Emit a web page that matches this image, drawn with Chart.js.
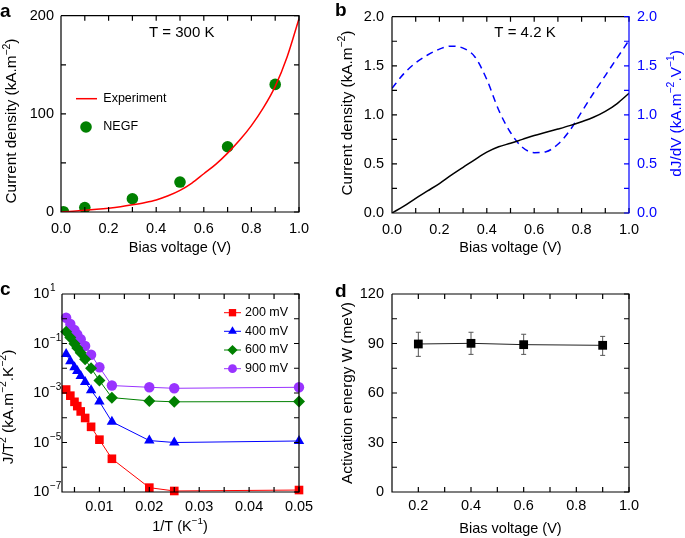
<!DOCTYPE html>
<html><head><meta charset="utf-8">
<script src="https://cdn.jsdelivr.net/npm/chart.js@4.4.1/dist/chart.umd.min.js"></script>
<style>
html,body{margin:0;padding:0;background:#fff;}
#wrap{position:relative;width:685px;height:538px;overflow:hidden;background:#fff;}
#wrap canvas{position:absolute;}
</style></head><body>
<div id="wrap">
<canvas id="ca" width="330" height="270" style="left:0px;top:0px;width:330px;height:270px"></canvas>
<canvas id="cb" width="355" height="270" style="left:330px;top:0px;width:355px;height:270px"></canvas>
<canvas id="cc" width="330" height="268" style="left:0px;top:270px;width:330px;height:268px"></canvas>
<canvas id="cd" width="355" height="268" style="left:330px;top:270px;width:355px;height:268px"></canvas>
</div>
<script>
// ---------- DATA ----------
// Panel a (T = 300 K)
const aBias = [0,0.05,0.1,0.15,0.2,0.25,0.3,0.35,0.4,0.45,0.5,0.55,0.6,0.65,0.7,0.75,0.8,0.85,0.9,0.95,1.0];
const aExperiment = [0,0.8,1.7,2.7,3.9,5.4,7.3,9.5,12.3,16.5,22,29.5,39,48.5,60,73,88,106,128,158,197];
const aNegfBias = [0.01,0.1,0.3,0.5,0.7,0.9];
const aNegf = [0.3,4.5,13.5,30.5,66.5,130];

// Panel b (T = 4.2 K)
const bBias = [0,0.05,0.1,0.15,0.2,0.25,0.3,0.35,0.4,0.45,0.5,0.55,0.6,0.65,0.7,0.75,0.8,0.85,0.9,0.95,1.0];
const bCurrent = [0,0.07,0.15,0.225,0.30,0.385,0.465,0.545,0.62,0.675,0.71,0.75,0.79,0.822,0.855,0.89,0.93,0.975,1.035,1.115,1.22];
const bDjdv = [1.27,1.42,1.53,1.61,1.67,1.70,1.68,1.59,1.36,1.05,0.82,0.67,0.615,0.625,0.70,0.84,1.03,1.22,1.40,1.58,1.76];

// Panel c (Arrhenius)
const cInvT = [0.00333,0.00417,0.005,0.00556,0.00625,0.00714,0.00833,0.01,0.0125,0.02,0.025,0.05];
const c200 = [1.38e-3,7.8e-4,4.4e-4,2.95e-4,1.8e-4,9.8e-5,4.3e-5,1.3e-5,2.2e-6,1.5e-7,1.1e-7,1.2e-7];
const c400 = [0.038,0.019,0.011,7.8e-3,4.9e-3,2.8e-3,1.3e-3,4.5e-4,6.9e-5,1.2e-5,1.0e-5,1.15e-5];
const c600 = [0.30,0.174,0.098,0.066,0.042,0.023,0.010,3.2e-3,6.5e-4,4.8e-4,4.4e-4,4.5e-4];
const c900 = [1.1,0.62,0.35,0.23,0.15,0.079,0.035,0.011,2.0e-3,1.7e-3,1.55e-3,1.7e-3];
const cLabels = ['200 mV','400 mV','600 mV','900 mV'];
const cYTickExponents = [1,-1,-3,-5,-7];

// Panel d (activation energy)
const dBias = [0.2,0.4,0.6,0.9];
const dEnergy = [89.7,90.1,89.3,88.9];
const dErrUp = [7.1,6.7,6.3,5.4];
const dErrDown = [7.5,6.7,5.9,6.1];

// ---------- STYLE / HELPERS ----------
const FONT = "'Liberation Sans', Arial, Helvetica, sans-serif";
Chart.defaults.font.family = FONT;
Chart.defaults.font.size = 14.5;
Chart.defaults.color = '#000';
Chart.defaults.animation = false;
Chart.defaults.events = [];
Chart.defaults.plugins.legend.display = false;
Chart.defaults.plugins.tooltip.enabled = false;

const RED = '#ff0000', BLUE = '#0000ff', GREEN = '#008000', PURPLE = '#9933ff';
const TITLE_SIZE = 15.3;
const pts = (xs, ys) => xs.map((x, i) => ({x: x, y: ys[i]}));

function axis(o) {
  return {
    type: o.type || 'linear', position: o.pos, min: o.min, max: o.max,
    grid: {display: false, drawTicks: false}, border: {display: false},
    ticks: {display: o.showTicks !== false, stepSize: o.step, padding: o.pad, color: o.color || '#000',
            includeBounds: false, autoSkip: false, maxRotation: 0, minRotation: 0,
            callback: o.fmt, font: {size: 14.5}},
    title: o.title ? {display: true, text: o.title, color: o.color || '#000', padding: o.tpad, font: {size: o.tsize || 14.5}} : {display: false},
    afterFit: s => { if (o.w != null) s.width = o.w; if (o.h != null) s.height = o.h; }
  };
}

function drawMarker(ctx, style, x, y, r, color) {
  ctx.save();
  ctx.fillStyle = color;
  ctx.beginPath();
  if (style === 'circle') ctx.arc(x, y, r, 0, Math.PI * 2);
  else if (style === 'rect') { const s = Math.SQRT1_2 * r; ctx.rect(x - s, y - s, 2 * s, 2 * s); }
  else if (style === 'rectRot') { ctx.moveTo(x, y - r); ctx.lineTo(x + r, y); ctx.lineTo(x, y + r); ctx.lineTo(x - r, y); ctx.closePath(); }
  else if (style === 'triangle') {
    let a = 0;
    ctx.moveTo(x + Math.sin(a) * r, y - Math.cos(a) * r); a += 2 * Math.PI / 3;
    ctx.lineTo(x + Math.sin(a) * r, y - Math.cos(a) * r); a += 2 * Math.PI / 3;
    ctx.lineTo(x + Math.sin(a) * r, y - Math.cos(a) * r); ctx.closePath();
  }
  ctx.fill();
  ctx.restore();
}

// text with superscripts: segs = [[text, isSup], ...]
function drawRich(ctx, segs, cx, cy, rot, color, size) {
  const supSize = size * 0.68;
  ctx.save();
  ctx.fillStyle = color || '#000';
  ctx.textBaseline = 'middle';
  ctx.textAlign = 'left';
  let total = 0;
  const widths = segs.map(s => {
    ctx.font = (s[1] ? supSize : size) + 'px ' + FONT;
    const w = ctx.measureText(s[0]).width; total += w; return w;
  });
  ctx.translate(cx, cy);
  if (rot) ctx.rotate(rot);
  let x = -total / 2;
  segs.forEach((s, i) => {
    ctx.font = (s[1] ? supSize : size) + 'px ' + FONT;
    ctx.fillText(s[0], x, s[1] ? -size * 0.36 : 0);
    x += widths[i];
  });
  ctx.restore();
}

function stepVals(min, max, step) {
  const out = [];
  let v = Math.ceil(min / step - 1e-9) * step;
  for (; v <= max + step * 1e-6; v += step) out.push(v);
  return out;
}

// Frame with inward ticks on all four sides
const framePlugin = {
  id: 'frame',
  afterDatasetsDraw(chart, args, opts) {
    if (!opts || !opts.on) return;
    const ctx = chart.ctx, ca = chart.chartArea;
    const xs = chart.scales.x, ys = chart.scales.y;
    const tl = 5;
    ctx.save();
    ctx.lineWidth = 1.2;
    const xv = stepVals(xs.min, xs.max, opts.xStep);
    const yv = opts.yLog ? (() => { const a = []; for (let k = Math.round(Math.log10(ys.min)); k <= Math.round(Math.log10(ys.max)); k++) a.push(Math.pow(10, k)); return a; })()
                         : stepVals(ys.min, ys.max, opts.yStep);
    ctx.strokeStyle = '#000';
    ctx.beginPath();
    xv.forEach(v => { const p = xs.getPixelForValue(v); ctx.moveTo(p, ca.bottom); ctx.lineTo(p, ca.bottom - tl); ctx.moveTo(p, ca.top); ctx.lineTo(p, ca.top + tl); });
    yv.forEach(v => { const p = ys.getPixelForValue(v); ctx.moveTo(ca.left, p); ctx.lineTo(ca.left + tl, p); });
    ctx.moveTo(ca.left, ca.top); ctx.lineTo(ca.left, ca.bottom); ctx.lineTo(ca.right, ca.bottom);
    ctx.moveTo(ca.left, ca.top); ctx.lineTo(ca.right, ca.top);
    ctx.stroke();
    ctx.strokeStyle = opts.rightColor || '#000';
    ctx.beginPath();
    yv.forEach(v => { const p = ys.getPixelForValue(v); ctx.moveTo(ca.right, p); ctx.lineTo(ca.right - tl, p); });
    ctx.moveTo(ca.right, ca.top - 0.6); ctx.lineTo(ca.right, ca.bottom + 0.6);
    ctx.stroke();
    ctx.restore();
  }
};

// Free text, legends, panel letters, titles with superscripts
const notesPlugin = {
  id: 'notes',
  afterDraw(chart, args, opts) {
    if (!opts || !opts.items) return;
    const ctx = chart.ctx;
    opts.items.forEach(it => {
      ctx.save();
      if (it.kind === 'line') {
        ctx.strokeStyle = it.color; ctx.lineWidth = it.width || 1;
        ctx.beginPath(); ctx.moveTo(it.x1, it.y); ctx.lineTo(it.x2, it.y); ctx.stroke();
      } else if (it.kind === 'marker') {
        drawMarker(ctx, it.style, it.x, it.y, it.r, it.color);
      } else if (it.kind === 'rich') {
        drawRich(ctx, it.segs, it.x, it.y, it.rot, it.color, it.size || TITLE_SIZE);
      } else {
        ctx.font = it.font || ('14.5px ' + FONT);
        ctx.fillStyle = it.color || '#000';
        ctx.textAlign = it.align || 'left';
        ctx.textBaseline = it.baseline || 'middle';
        ctx.translate(it.x, it.y);
        if (it.rot) ctx.rotate(it.rot);
        ctx.fillText(it.text, 0, 0);
      }
      ctx.restore();
    });
  }
};

// Log tick labels as 10^n with raised exponent
const logLabelsPlugin = {
  id: 'logLabels',
  afterDraw(chart, args, opts) {
    if (!opts || !opts.exps) return;
    const ctx = chart.ctx, ys = chart.scales.y;
    ctx.save();
    ctx.fillStyle = '#000';
    ctx.textBaseline = 'middle';
    ctx.textAlign = 'left';
    opts.exps.forEach(k => {
      const y = ys.getPixelForValue(Math.pow(10, k));
      ctx.font = '14.5px ' + FONT;
      ctx.fillText('10', opts.x, y);
      const w = ctx.measureText('10').width;
      ctx.font = '10px ' + FONT;
      ctx.fillText(k < 0 ? '\u2212' + (-k) : String(k), opts.x + w + 0.5, y - 5.5);
    });
    ctx.restore();
  }
};

// Vertical error bars
const errorBarsPlugin = {
  id: 'errorBars',
  beforeDatasetsDraw(chart, args, opts) {
    if (!opts || !opts.up) return;
    const ctx = chart.ctx, xs = chart.scales.x, ys = chart.scales.y;
    ctx.save();
    ctx.strokeStyle = '#555'; ctx.lineWidth = 1;
    ctx.beginPath();
    opts.xs.forEach((xv, i) => {
      const px = xs.getPixelForValue(xv);
      const top = ys.getPixelForValue(opts.ys[i] + opts.up[i]);
      const bot = ys.getPixelForValue(opts.ys[i] - opts.down[i]);
      ctx.moveTo(px, top); ctx.lineTo(px, bot);
      ctx.moveTo(px - 2.5, top); ctx.lineTo(px + 2.5, top);
      ctx.moveTo(px - 2.5, bot); ctx.lineTo(px + 2.5, bot);
    });
    ctx.stroke();
    ctx.restore();
  }
};

Chart.register(framePlugin, notesPlugin, logLabelsPlugin, errorBarsPlugin);

const f1 = v => Number(v).toFixed(1);
const f2 = v => Number(v).toFixed(2);
const f0 = v => String(Math.round(v));
const BOLD = 'bold 19px ' + FONT;
const LEG = '12.5px ' + FONT;
const UP = -Math.PI / 2;

// ---------- PANEL a ----------
new Chart(document.getElementById('ca'), {
  type: 'scatter',
  data: {datasets: [
    {data: pts(aBias, aExperiment), showLine: true, borderColor: RED, borderWidth: 1.5, pointRadius: 0, cubicInterpolationMode: 'monotone'},
    {data: pts(aNegfBias, aNegf), showLine: false, pointRadius: 5.8, pointBackgroundColor: GREEN, pointBorderWidth: 0, clip: 0}
  ]},
  options: {
    responsive: false,
    layout: {padding: {left: 0, right: 31, top: 15, bottom: 0}},
    scales: {
      x: axis({pos: 'bottom', min: 0, max: 1, step: 0.2, pad: 8, fmt: f1, h: 58, title: 'Bias voltage (V)', tpad: {top: 0, bottom: 13}}),
      y: axis({pos: 'left', min: 0, max: 200, step: 100, pad: 7, fmt: f0, w: 61})
    },
    plugins: {
      frame: {on: true, xStep: 0.1, yStep: 50},
      notes: {items: [
        {text: 'a', x: 0, y: 16.5, font: BOLD, baseline: 'alphabetic'},
        {kind: 'rich', segs: [['Current density (kA.m', false], ['\u22122', true], [')', false]], x: 12.2, y: 121, rot: UP},
        {text: 'T = 300 K', x: 181.7, y: 33.3, font: '15px ' + FONT, align: 'center'},
        {kind: 'line', x1: 76, x2: 97, y: 98.7, color: RED, width: 1.5},
        {text: 'Experiment', x: 103.3, y: 98.7, font: LEG},
        {kind: 'marker', style: 'circle', x: 86, y: 127, r: 5.8, color: GREEN},
        {text: 'NEGF', x: 103.3, y: 127, font: LEG}
      ]}
    }
  }
});

// ---------- PANEL b ----------
new Chart(document.getElementById('cb'), {
  type: 'scatter',
  data: {datasets: [
    {data: pts(bBias, bCurrent), showLine: true, borderColor: '#000', borderWidth: 1.5, pointRadius: 0, cubicInterpolationMode: 'monotone', yAxisID: 'y'},
    {data: pts(bBias, bDjdv), showLine: true, borderColor: BLUE, borderWidth: 1.5, borderDash: [7, 5], pointRadius: 0, cubicInterpolationMode: 'monotone', yAxisID: 'y2'}
  ]},
  options: {
    responsive: false,
    layout: {padding: {left: 0, right: 0, top: 15, bottom: 0}},
    scales: {
      x: axis({pos: 'bottom', min: 0, max: 1, step: 0.2, pad: 8, fmt: f1, h: 57, title: 'Bias voltage (V)', tpad: {top: 0, bottom: 13}}),
      y: axis({pos: 'left', min: 0, max: 2, step: 0.5, pad: 8, fmt: f1, w: 62}),
      y2: axis({pos: 'right', min: 0, max: 2, step: 0.5, pad: 8, fmt: f1, w: 56, color: BLUE})
    },
    plugins: {
      frame: {on: true, xStep: 0.1, yStep: 0.25, rightColor: BLUE},
      notes: {items: [
        {text: 'b', x: 5, y: 15.5, font: BOLD, baseline: 'alphabetic'},
        {kind: 'rich', segs: [['Current density (kA.m', false], ['\u22122', true], [')', false]], x: 17.5, y: 113, rot: UP},
        {text: 'T = 4.2 K', x: 195, y: 33, font: '15px ' + FONT, align: 'center'},
        {kind: 'rich', segs: [['dJ/dV (kA.m', false], ['\u22122', true], ['.V', false], ['\u22121', true], [')', false]], x: 347, y: 113.5, rot: UP, color: BLUE}
      ]}
    }
  }
});

// ---------- PANEL c ----------
const cSeries = [
  {vals: c200, color: RED, style: 'rect', r: 6.1},
  {vals: c400, color: BLUE, style: 'triangle', r: 6.0},
  {vals: c600, color: GREEN, style: 'rectRot', r: 6.0},
  {vals: c900, color: PURPLE, style: 'circle', r: 5.2}
];
const cLegendItems = [];
const cLegY = [42.7, 61.3, 80, 98.7];
cSeries.forEach((s, i) => {
  cLegendItems.push({kind: 'line', x1: 224, x2: 241, y: cLegY[i], color: s.color, width: 1});
  cLegendItems.push({kind: 'marker', style: s.style, x: 232.5, y: cLegY[i], r: s.r * 0.85, color: s.color});
  cLegendItems.push({text: cLabels[i], x: 245, y: cLegY[i], font: LEG});
});
new Chart(document.getElementById('cc'), {
  type: 'scatter',
  data: {datasets: cSeries.map(s => ({
    data: pts(cInvT, s.vals), showLine: true, borderColor: s.color, borderWidth: 1,
    pointStyle: s.style, pointRadius: s.r, pointBackgroundColor: s.color, pointBorderWidth: 0, clip: 6
  }))},
  options: {
    responsive: false,
    layout: {padding: {left: 0, right: 31, top: 24, bottom: 0}},
    scales: {
      x: axis({pos: 'bottom', min: 0.0025, max: 0.05, step: 0.01, pad: 6, fmt: f2, h: 46}),
      y: axis({type: 'logarithmic', pos: 'left', min: 1e-7, max: 10, showTicks: false, w: 62})
    },
    plugins: {
      frame: {on: true, xStep: 0.005, yLog: true},
      logLabels: {exps: cYTickExponents, x: 33.3},
      notes: {items: [
        {text: 'c', x: 0, y: 25, font: BOLD, baseline: 'alphabetic'},
        {kind: 'rich', segs: [['J/T', false], ['2', true], [' (kA.m', false], ['\u22122', true], ['.K', false], ['\u22122', true], [')', false]], x: 8.5, y: 137, rot: UP},
        {kind: 'rich', segs: [['1/T (K', false], ['\u22121', true], [')', false]], x: 180, y: 257, size: 14.5}
      ].concat(cLegendItems)}
    }
  }
});

// ---------- PANEL d ----------
new Chart(document.getElementById('cd'), {
  type: 'scatter',
  data: {datasets: [
    {data: pts(dBias, dEnergy), showLine: true, borderColor: '#222', borderWidth: 1, pointStyle: 'rect', pointRadius: 6.2, pointBackgroundColor: '#000', pointBorderWidth: 0}
  ]},
  options: {
    responsive: false,
    layout: {padding: {left: 0, right: 56, top: 24, bottom: 0}},
    scales: {
      x: axis({pos: 'bottom', min: 0.1, max: 1.0, step: 0.2, pad: 5, fmt: f1, h: 46, title: 'Bias voltage (V)', tpad: {top: 0, bottom: 0.3}}),
      y: axis({pos: 'left', min: 0, max: 120, step: 30, pad: 8, fmt: f0, w: 62, title: 'Activation energy W (meV)', tsize: TITLE_SIZE, tpad: {top: 8.3, bottom: 0}})
    },
    plugins: {
      frame: {on: true, xStep: 0.1, yStep: 15},
      errorBars: {xs: dBias, ys: dEnergy, up: dErrUp, down: dErrDown},
      notes: {items: [{text: 'd', x: 5, y: 26.7, font: BOLD, baseline: 'alphabetic'}]}
    }
  }
});
</script>
</body></html>
